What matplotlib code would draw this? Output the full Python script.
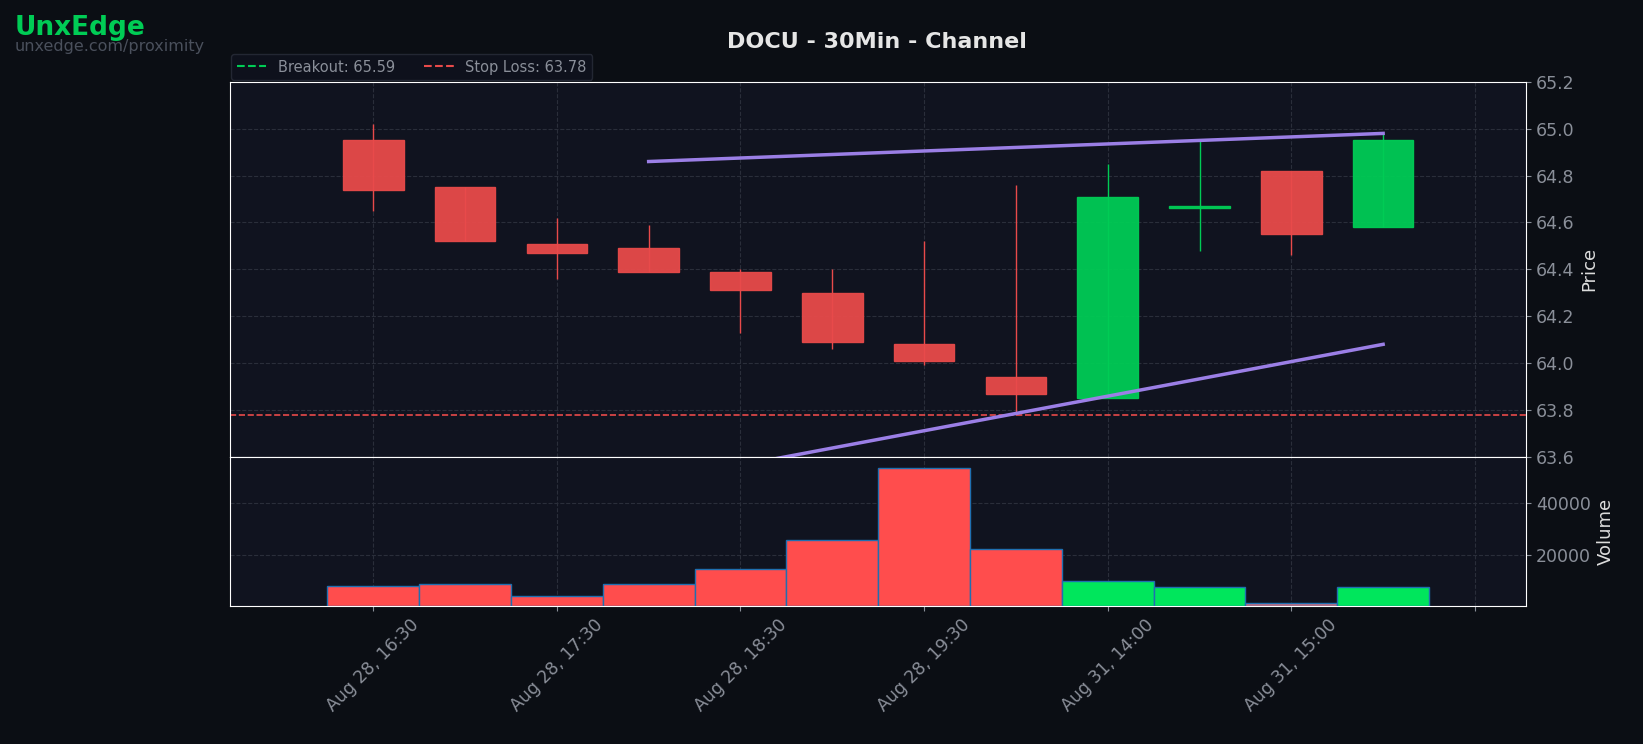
import matplotlib
matplotlib.use("Agg")
import matplotlib.pyplot as plt
from matplotlib.lines import Line2D
from matplotlib.patches import Rectangle

# --- data ---
opens = [64.95, 64.75, 64.51, 64.49, 64.39, 64.30, 64.08, 63.94, 63.85, 64.66, 64.82, 64.58]
highs = [65.02, 64.75, 64.62, 64.59, 64.40, 64.40, 64.52, 64.76, 64.85, 64.95, 64.82, 64.98]
lows = [64.65, 64.52, 64.36, 64.39, 64.13, 64.06, 63.99, 63.78, 63.85, 64.48, 64.46, 64.58]
closes = [64.74, 64.52, 64.47, 64.39, 64.31, 64.09, 64.01, 63.87, 64.71, 64.67, 64.55, 64.95]
volumes = [7900, 8700, 4200, 8700, 14600, 25800, 53700, 22100, 10000, 7500, 1200, 7500]
tick_labels = ["Aug 28, 16:30", "Aug 28, 17:30", "Aug 28, 18:30", "Aug 28, 19:30",
               "Aug 31, 14:00", "Aug 31, 15:00", ""]
upper_channel = [(3, 64.86), (11, 64.98)]
lower_channel = [(3, 63.49), (11, 64.08)]
breakout = 65.59
stop_loss = 63.78

BG = "#0b0e14"
AX_BG = "#10131f"
UP = "#00cc55"
DOWN = "#e84a4a"
GRID = "#2a2e3a"
TXT = "#8a8f99"

fig = plt.figure(figsize=(16.43, 7.44), dpi=100, facecolor=BG)
ax = fig.add_axes([0.140, 0.386, 0.789, 0.504], facecolor=AX_BG)
axv = fig.add_axes([0.140, 0.185, 0.789, 0.201], facecolor=AX_BG, sharex=ax)

for i, (o, h, l, c) in enumerate(zip(opens, highs, lows, closes)):
    col = UP if c >= o else DOWN
    ax.vlines(i, l, h, color=col, lw=1.0, zorder=3)
    ax.add_patch(Rectangle((i - 0.33, min(o, c)), 0.66, max(abs(c - o), 0.01),
                           facecolor=col, edgecolor=col, alpha=0.95, zorder=4))

ax.plot(*zip(*upper_channel), color="#9b7fe6", lw=2.5, zorder=5)
ax.plot(*zip(*lower_channel), color="#9b7fe6", lw=2.5, zorder=5)
ax.axhline(breakout, color="#00cc55", ls="--", lw=1.2)
ax.axhline(stop_loss, color="#e84a4a", ls="--", lw=1.2)

vol_cols = []
for o, c, v in zip(opens, closes, volumes):
    vol_cols.append("#00e65c" if c >= o else "#ff4d4d")
vol_cols[10] = "#c97080"
axv.bar(range(len(volumes)), volumes, width=1.0, color=vol_cols, edgecolor="#1f6fb0", lw=1, zorder=3)

ax.set_ylim(63.6, 65.2)
ax.set_xlim(-1.56, 12.56)
axv.set_ylim(0, 58000)
axv.set_yticks([20000, 40000])
axv.set_xticks(range(0, 13, 2))
axv.set_xticklabels(tick_labels, rotation=45, ha="center")
ax.tick_params(labelbottom=False)

for a in (ax, axv):
    a.set_axisbelow(True)
    a.yaxis.tick_right()
    a.yaxis.set_label_position("right")
    a.grid(True, color=GRID, ls="--", lw=0.8)
    a.tick_params(colors=TXT, labelsize=12.5)
    for s in a.spines.values():
        s.set_color("white")
ax.set_ylabel("Price", color="#dddddd", fontsize=13)
axv.set_ylabel("Volume", color="#dddddd", fontsize=13)

handles = [Line2D([], [], color="#00cc55", ls="--", label=f"Breakout: {breakout:.2f}"),
           Line2D([], [], color="#e84a4a", ls="--", label=f"Stop Loss: {stop_loss:.2f}")]
leg = ax.legend(handles=handles, loc="lower left", bbox_to_anchor=(0, 1.0), ncol=2,
                fontsize=10.5, frameon=True, facecolor=AX_BG, edgecolor=GRID, borderaxespad=0.1)
for t in leg.get_texts():
    t.set_color(TXT)

fig.text(0.534, 0.944, "DOCU - 30Min - Channel", color="#e6e6e6", fontsize=16,
         fontweight="bold", ha="center", va="center")
fig.text(0.009, 0.962, "UnxEdge", color="#00cc55", fontsize=19, fontweight="bold", va="center")
fig.text(0.009, 0.937, "unxedge.com/proximity", color="#4a505c", fontsize=11.5, va="center")

fig.savefig("out.png", dpi=100, facecolor=BG)
